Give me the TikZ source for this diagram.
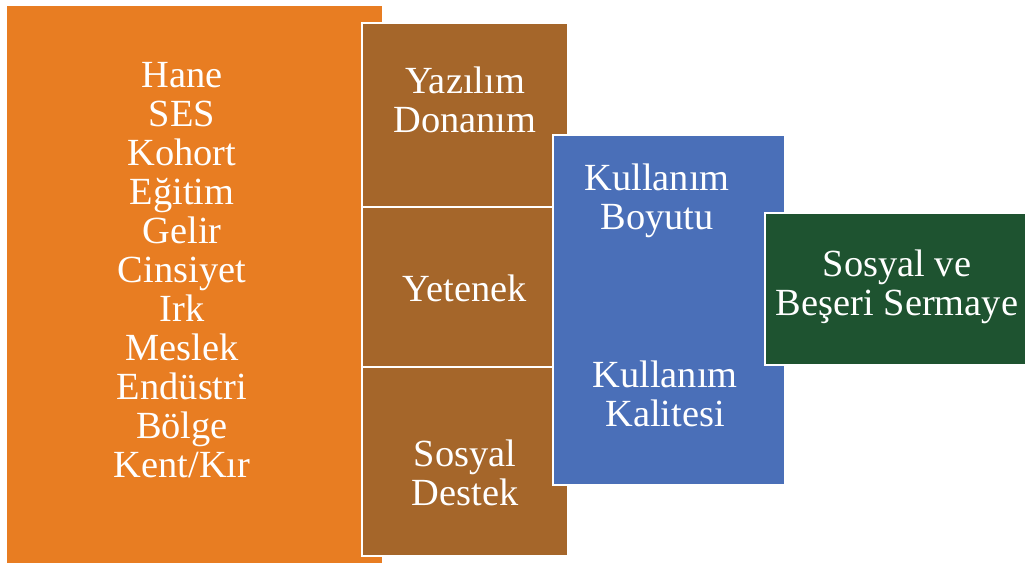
\documentclass[tikz,border=0pt]{standalone}
\usepackage{fontspec}
\setmainfont{Liberation Serif}
\definecolor{ornge}{RGB}{232,125,34}
\definecolor{brwn}{RGB}{165,102,42}
\definecolor{blu}{RGB}{74,111,184}
\definecolor{grn}{RGB}{30,83,48}
\tikzset{
  box/.style={draw=white, line width=1.5pt},
  lbl/.style={text=white, align=center, inner sep=0pt,
    font=\fontsize{28.8}{29.3}\selectfont}
}
\begin{document}
\begin{tikzpicture}[x=0.75pt, y=-0.75pt]
      \useasboundingbox (0,0) rectangle (1027,572);
      %
      \draw[box, fill=ornge] (6,5) rectangle (383,564);   % left block
      %
      \draw[box, fill=brwn] (362,23) rectangle (568,207);  % middle cells
      \draw[box, fill=brwn] (362,207) rectangle (568,367);
      \draw[box, fill=brwn] (362,367) rectangle (568,556);
      %
      \draw[box, fill=blu] (553,135) rectangle (785,485);  % usage
      %
      \draw[box, fill=grn] (765,213) rectangle (1026,365); % result
      %
      \node[lbl] (faktor) at (182,270) {Hane\\SES\\Kohort\\E\u{g}itim\\Gelir\\Cinsiyet\\Irk\\Meslek\\End\"ustri\\B\"olge\\Kent/K\i r};
      %%
      \node[lbl] (erisim) at (465,100) {Yaz\i l\i m\\Donan\i m};
      \node[lbl] (yetenek) at (465,288) {Yetenek};
      \node[lbl] (destek) at (465,473) {Sosyal\\Destek};
      %%
      \node[lbl] (boyut) at (657,201) {Kullan\i m\\Boyutu};
      \node[lbl] (kalite) at (665,394) {Kullan\i m\\Kalitesi};
      %%
      \node[lbl] (sermaye) at (897,287) {Sosyal ve\\Be\c{s}eri Sermaye};
      %
\end{tikzpicture}
\end{document}
